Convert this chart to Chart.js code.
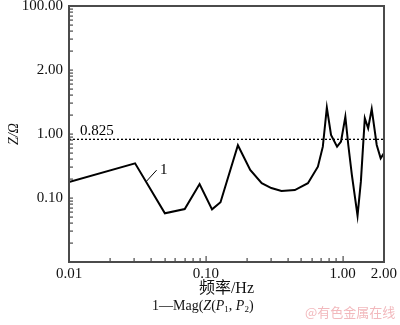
<!DOCTYPE html>
<html>
<head>
<meta charset="utf-8">
<script src="https://cdn.jsdelivr.net/npm/chart.js@4.4.0/dist/chart.umd.min.js"></script>
<style>
  html, body { margin: 0; padding: 0; background: #fff; }
  #wrap { position: relative; width: 400px; height: 325px; }
  #cap { position: absolute; left: 152px; top: 299px; font: 14px "Liberation Serif", serif; color: #111; line-height: 1; white-space: nowrap; }
  #cap sub { font-size: 9px; vertical-align: -2px; }
  #wm { position: absolute; left: 305px; top: 305px; font: 13px "Noto Sans CJK SC", sans-serif; color: #f2b9bd; line-height: 1; white-space: nowrap; }
</style>
</head>
<body>
<div id="wrap">
  <canvas id="c" width="400" height="325"></canvas>
  <div id="cap">1—Mag(<i>Z</i>(<i>P</i><sub>1</sub>, <i>P</i><sub>2</sub>)</div>
  <div id="wm">@有色金属在线</div>
</div>
<script>
// Impedanzverlauf |Z| über der Frequenz
const FREQ = [0.01, 0.0304, 0.0502, 0.0701, 0.090, 0.111, 0.128, 0.1715, 0.211, 0.256, 0.301, 0.357, 0.447, 0.557, 0.659, 0.716,
              0.766, 0.822, 0.910, 0.972, 1.046, 1.099, 1.167, 1.284, 1.358, 1.451, 1.535, 1.630, 1.773, 1.895, 2.0];
const MAG  = [0.178, 0.348, 0.0577, 0.0673, 0.1655, 0.0665, 0.0857, 0.666, 0.274, 0.170, 0.143, 0.1286, 0.133, 0.170, 0.308, 0.634,
              2.58, 0.965, 0.634, 0.758, 1.86, 0.673, 0.229, 0.0529, 0.180, 1.76, 1.23, 2.46, 0.673, 0.417, 0.499];
const REF_LEVEL = 0.825;

const X_TICKS = [0.01, 0.1, 1, 2];
const X_TICK_LABELS = ["0.01", "0.10", "1.00", "2.00"];
const Y_TICKS = [0.1, 1, 10, 100];
const Y_TICK_LABELS = ["0.10", "1.00", "2.00", "100.00"];

// Kurvenbeschriftung "1" mit Hinweislinie
const CURVE_LABEL = { x: 0.0366, y: 0.18, text: "1" };

const SERIF = '"Liberation Serif", "Noto Sans CJK SC", serif';
const AXIS = "rgb(75, 75, 75)";

// Rahmen + Teilstriche als gefüllte Rechtecke (pixelgenau)
const frameTicks = {
  id: "frameTicks",
  afterDraw(chart) {
    const { ctx, chartArea: a } = chart;
    const x = chart.scales.x, y = chart.scales.y;
    const L = Math.round(a.left), R = Math.round(a.right), T = Math.round(a.top), B = Math.round(a.bottom);
    ctx.save();
    ctx.fillStyle = AXIS;
    ctx.fillRect(L - 1, T - 1, 2, B - T + 2);
    ctx.fillRect(R - 1, T - 1, 2, B - T + 2);
    ctx.fillRect(L - 1, T - 1, R - L + 2, 2);
    ctx.fillRect(L - 1, B - 1, R - L + 2, 2);

    for (let d = -2; d <= 0; d++) {
      for (let k = 2; k <= 10; k++) {
        const v = k * Math.pow(10, d);
        if (v > 1.99) continue;
        const px = Math.round(x.getPixelForValue(v));
        const len = k === 10 ? 6 : 4;
        ctx.fillRect(px - 0.5, B - len, 1.2, len);
      }
    }
    for (let d = -2; d <= 1; d++) {
      for (let k = 2; k <= 10; k++) {
        const v = k * Math.pow(10, d);
        if (v > 99) continue;
        const py = Math.round(y.getPixelForValue(v));
        ctx.fillRect(L, py - 0.5, 4, 1.2);
      }
    }

    ctx.fillStyle = "rgb(0, 0, 0)";
    ctx.font = "15px " + SERIF;
    ctx.textBaseline = "middle";
    ctx.fillText(REF_LEVEL.toFixed(3), a.left + 11, y.getPixelForValue(REF_LEVEL) - 8);

    const lx = x.getPixelForValue(CURVE_LABEL.x);
    const ly = y.getPixelForValue(CURVE_LABEL.y);
    ctx.strokeStyle = "rgb(0, 0, 0)";
    ctx.lineWidth = 1;
    ctx.beginPath();
    ctx.moveTo(lx, ly); ctx.lineTo(lx + 10.5, ly - 11.5);
    ctx.stroke();
    ctx.fillText(CURVE_LABEL.text, lx + 14, ly - 11.5);
    ctx.restore();
  }
};

new Chart(document.getElementById("c"), {
  type: "line",
  data: {
    datasets: [
      {
        label: "Mag(Z(P1, P2))",
        data: FREQ.map((f, i) => ({ x: f, y: MAG[i] })),
        borderColor: "#000", backgroundColor: "transparent",
        borderWidth: 2, pointRadius: 0, tension: 0
      },
      {
        label: "0.825",
        data: [{ x: X_TICKS[0], y: REF_LEVEL }, { x: X_TICKS[X_TICKS.length - 1], y: REF_LEVEL }],
        borderColor: "#000", backgroundColor: "transparent",
        borderWidth: 1.3, borderDash: [2, 2], pointRadius: 0
      }
    ]
  },
  options: {
    responsive: false, animation: false,
    layout: { padding: { left: 0, top: 0, bottom: 25 } },
    scales: {
      x: {
        type: "logarithmic", min: 0.01, max: 2,
        afterBuildTicks: s => { s.ticks = X_TICKS.map(v => ({ value: v })); },
        afterFit: s => { s.height = 38; },
        grid: { drawOnChartArea: false, drawTicks: false },
        border: { display: false },
        ticks: { autoSkip: false, maxRotation: 0, padding: 3, color: "#111",
                 font: { family: SERIF, size: 15 }, callback: (v, i) => X_TICK_LABELS[i] },
        title: { display: true, text: "频率/Hz", color: "#111", padding: { top: 0, bottom: 2 },
                 font: { family: SERIF, size: 16 } }
      },
      y: {
        type: "logarithmic", min: 0.01, max: 100,
        afterBuildTicks: s => { s.ticks = Y_TICKS.map(v => ({ value: v })); },
        afterFit: s => { s.width = 69; s.paddingTop = 6; s.paddingBottom = 0; },
        grid: { drawOnChartArea: false, drawTicks: false },
        border: { display: false },
        ticks: { autoSkip: false, padding: 6, color: "#111",
                 font: { family: SERIF, size: 15 }, callback: (v, i) => Y_TICK_LABELS[i] },
        title: { display: true, text: "Z/Ω", color: "#111", padding: { top: 6, bottom: 0 },
                 font: { family: SERIF, size: 14, style: "italic" } }
      }
    },
    plugins: { legend: { display: false }, tooltip: { enabled: false } }
  },
  plugins: [frameTicks]
});
</script>
</body>
</html>
